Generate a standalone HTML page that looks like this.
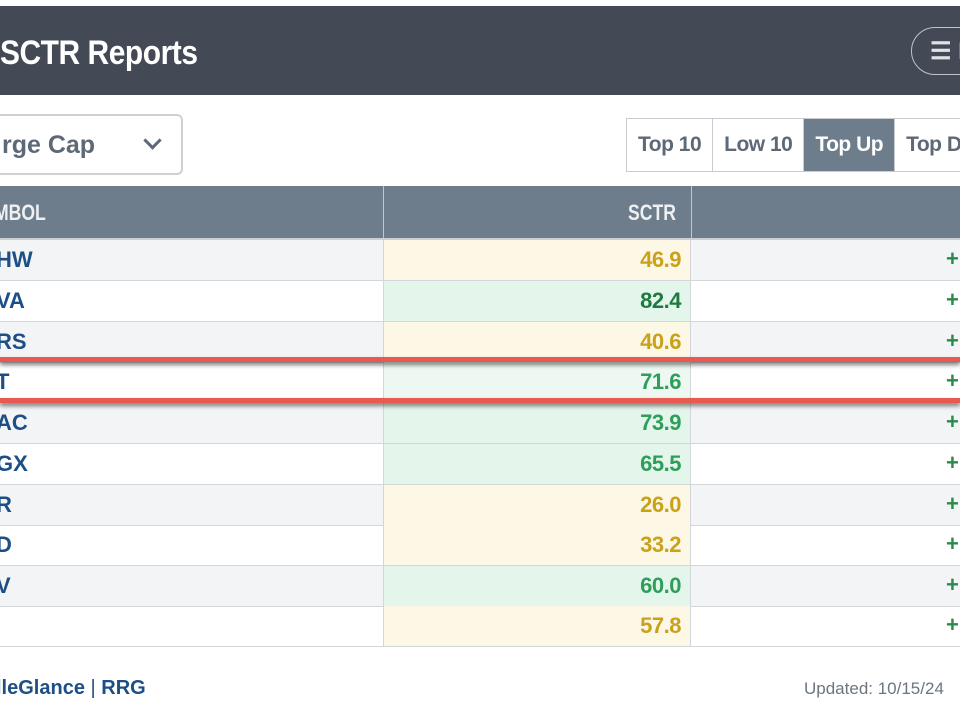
<!DOCTYPE html>
<html><head><style>
body{margin:0;width:960px;height:712px;background:#fff;overflow:hidden;position:relative;font-family:"Liberation Sans",sans-serif}
.hdr{position:absolute;left:0;top:6px;width:960px;height:89px;background:#434a55}
.title{position:absolute;left:0;top:28px;color:#fff;font-size:34px;font-weight:bold;letter-spacing:-0.5px;transform:scaleX(0.88);transform-origin:left}
.menu{position:absolute;left:911px;top:21px;width:80px;height:48px;border:1.5px solid #bfc4cb;border-radius:25px;color:#e0e3e6;font-size:24px;font-weight:bold;line-height:48px;padding-left:18px;box-sizing:border-box}
.sel{position:absolute;left:-10px;top:114px;width:193px;height:61px;border:2px solid #cdd1d6;border-radius:6px;box-sizing:border-box}
.sel span{position:absolute;left:10px;top:15px;font-size:25px;color:#5d6976;font-weight:bold}
.sel i{position:absolute;left:154px;top:18px;width:10px;height:10px;border-right:3px solid #5d6976;border-bottom:3px solid #5d6976;transform:rotate(45deg)}
.tabs{position:absolute;left:626px;top:118px;height:54px;display:flex;border:1px solid #c8ccd1;box-sizing:border-box}
.tabs div{height:52px;line-height:52px;font-size:21px;color:#5d6976;padding:0 11px;border-right:1px solid #c8ccd1;white-space:nowrap;font-weight:bold;letter-spacing:-0.5px}
.tabs .a{background:#6e7d8c;color:#fff}
.th{position:absolute;left:0;top:186px;width:960px;height:52px;background:#6e7d8c;border-bottom:3px solid #c9d0d7;box-sizing:content-box}
.th span{position:absolute;top:14px;color:#eef0f2;font-size:22px;font-weight:bold;transform:scaleX(0.8);transform-origin:left}
.row{position:absolute;left:0;width:960px;height:40px;border-bottom:1px solid #d3d6da}
.sym{position:absolute;left:-4px;top:7px;font-size:22px;font-weight:bold;color:#1d4f86}
.sc{position:absolute;left:383px;top:0;width:308px;height:40px;border-left:1px solid #d3d6da;border-right:1px solid #d3d6da;box-sizing:border-box}
.sc span{position:absolute;right:9px;top:7px;font-size:22px;font-weight:bold;letter-spacing:-0.5px}
.pl{position:absolute;left:946px;top:6px;font-size:22px;font-weight:bold;color:#2a8a4a}
.y{background:#fdf7e6}.y span{color:#c9a21a}
.g{background:#e4f6ec}.g span{color:#2e9e5a}
.red{position:absolute;left:0;width:960px;height:5px;background:#e85a4f;box-shadow:0 3px 4px rgba(0,0,0,0.5)}
.ft{position:absolute;top:677px;font-size:20px}
</style></head><body>
<div class="hdr"><div class="title">SCTR Reports</div><div class="menu">☰ M</div></div>
<div class="sel"><span>rge Cap</span><i></i></div>
<div class="tabs"><div>Top 10</div><div>Low 10</div><div class="a">Top Up</div><div>Top Down</div></div>
<div class="th"><span style="left:-6px">MBOL</span><span style="left:628px">SCTR</span>
<div style="position:absolute;left:383px;top:0;width:1px;height:52px;background:#c0c7ce"></div>
<div style="position:absolute;left:691px;top:0;width:1px;height:52px;background:#c0c7ce"></div></div>

<div class="row" style="top:240px;background:#f3f4f6"><div class="sym">HW</div><div class="sc y"><span>46.9</span></div><div class="pl">+</div></div>
<div class="row" style="top:281px"><div class="sym">VA</div><div class="sc g"><span style="color:#1f7a3f">82.4</span></div><div class="pl">+</div></div>
<div class="row" style="top:322px;background:#f3f4f6"><div class="sym">RS</div><div class="sc y"><span>40.6</span></div><div class="pl">+</div></div>
<div class="row" style="top:362px"><div class="sym">T</div><div class="sc g" style="background:#ecf8f1"><span>71.6</span></div><div class="pl">+</div></div>
<div class="row" style="top:403px;background:#f3f4f6"><div class="sym">AC</div><div class="sc g"><span>73.9</span></div><div class="pl">+</div></div>
<div class="row" style="top:444px"><div class="sym">GX</div><div class="sc g"><span>65.5</span></div><div class="pl">+</div></div>
<div class="row" style="top:485px;background:#f3f4f6"><div class="sym">R</div><div class="sc y"><span>26.0</span></div><div class="pl">+</div></div>
<div class="row" style="top:525px"><div class="sym">D</div><div class="sc y"><span>33.2</span></div><div class="pl">+</div></div>
<div class="row" style="top:566px;background:#f3f4f6"><div class="sym">V</div><div class="sc g"><span>60.0</span></div><div class="pl">+</div></div>
<div class="row" style="top:606px"><div class="sym"></div><div class="sc y"><span>57.8</span></div><div class="pl">+</div></div>

<div class="red" style="top:357px"></div>
<div class="red" style="top:398px"></div>

<div class="ft" style="left:-4px;color:#1d4f86;font-weight:bold">lleGlance <span style="font-weight:normal;color:#1d4f86">|</span> RRG</div>
<div class="ft" style="left:804px;color:#6b7580;font-size:17px;top:679px">Updated: 10/15/24</div>
</body></html>
